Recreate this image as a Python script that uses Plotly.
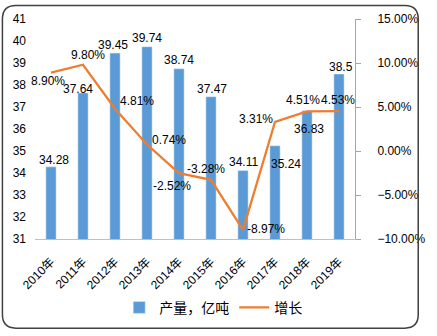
import plotly.graph_objects as go

years = ["2010年", "2011年", "2012年", "2013年", "2014年", "2015年", "2016年", "2017年", "2018年", "2019年"]
output = [34.28, 37.64, 39.45, 39.74, 38.74, 37.47, 34.11, 35.24, 36.83, 38.5]
growth = [0.0890, 0.0980, 0.0481, 0.0074, -0.0252, -0.0328, -0.0897, 0.0331, 0.0451, 0.0453]
growth_labels = ["8.90%", "9.80%", "4.81%", "0.74%", "-2.52%", "-3.28%", "-8.97%", "3.31%", "4.51%", "4.53%"]
output_labels = ["34.28", "37.64", "39.45", "39.74", "38.74", "37.47", "34.11", "35.24", "36.83", "38.5"]

# label offsets (pixels) relative to their data point
bar_dx = [3, -5, -2, 0, 0, 1, 0, 11, 2, 2]
bar_dy = [7, 4, 8, 9, 9, 8, 9, -18, -18, 7]
line_dx = [-3, 5, 22, 22, -7, -5, 23, -19, -4, -1]
line_dy = [-8, 10, 8, 4, -13, 11, 1, 3, 11, 11]

FONT = "Liberation Sans, Noto Sans CJK SC, sans-serif"
BLUE = "#5B9BD5"
ORANGE = "#ED7D31"

fig = go.Figure()
fig.add_trace(go.Bar(x=years, y=output, name="产量，亿吨", marker_color=BLUE, width=0.32,
                     yaxis="y"))
fig.add_trace(go.Scatter(x=years, y=growth, name="增长", mode="lines",
                         line=dict(color=ORANGE, width=2.25), yaxis="y2"))

annotations = []
for yr, v, t, dx, dy in zip(years, output, output_labels, bar_dx, bar_dy):
    annotations.append(dict(x=yr, y=v, xref="x", yref="y", text=t, showarrow=False,
                            xanchor="center", yanchor="middle", xshift=dx, yshift=dy,
                            font=dict(size=12, color="#000000")))
for yr, v, t, dx, dy in zip(years, growth, growth_labels, line_dx, line_dy):
    annotations.append(dict(x=yr, y=v, xref="x", yref="y2", text=t, showarrow=False,
                            xanchor="center", yanchor="middle", xshift=dx, yshift=dy,
                            font=dict(size=12, color="#000000")))

# rounded chart border in paper coordinates
L, R, T, B = 35, 369, 15, 242
W, H = R - L, B - T
def px(x):
    return (x - L) / W
def py(y):
    return (B - y) / H
x0, x1, y0, y1, r = 1, 435, 1, 334, 14
path = (f"M {px(x0+r)},{py(y0)} L {px(x1-r)},{py(y0)} Q {px(x1)},{py(y0)} {px(x1)},{py(y0+r)} "
        f"L {px(x1)},{py(y1-r)} Q {px(x1)},{py(y1)} {px(x1-r)},{py(y1)} "
        f"L {px(x0+r)},{py(y1)} Q {px(x0)},{py(y1)} {px(x0)},{py(y1-r)} "
        f"L {px(x0)},{py(y0+r)} Q {px(x0)},{py(y0)} {px(x0+r)},{py(y0)} Z")

fig.update_layout(
    width=437, height=336,
    margin=dict(l=L, r=437 - R, t=T, b=336 - B),
    paper_bgcolor="white", plot_bgcolor="white",
    font=dict(family=FONT, size=12, color="#000000"),
    annotations=annotations,
    xaxis=dict(tickangle=-45, showgrid=False, showline=True, linecolor="#BFBFBF", linewidth=1,
               ticks="", tickfont=dict(size=12), range=[-0.5, 9.5], ticklabelstandoff=10),
    yaxis=dict(range=[31, 41], dtick=1, showgrid=False, showline=False, zeroline=False,
               ticks="", tickfont=dict(size=12), ticklabelstandoff=8),
    yaxis2=dict(range=[-0.10, 0.15], dtick=0.05, tickformat=".2%", overlaying="y", side="right",
                showgrid=False, zeroline=False, showline=True, linecolor="#A6A6A6", linewidth=1,
                ticks="outside", ticklen=5, tickcolor="#A6A6A6", tickfont=dict(size=12),
                ticklabelstandoff=14),
    legend=dict(orientation="h", x=px(221), xanchor="center", y=py(313), yanchor="middle",
                font=dict(size=14), bgcolor="rgba(0,0,0,0)"),
    shapes=[dict(type="path", path=path, xref="paper", yref="paper",
                 line=dict(color="#404040", width=1.5), fillcolor="rgba(0,0,0,0)", layer="above")],
)

fig.write_html("out.html")
